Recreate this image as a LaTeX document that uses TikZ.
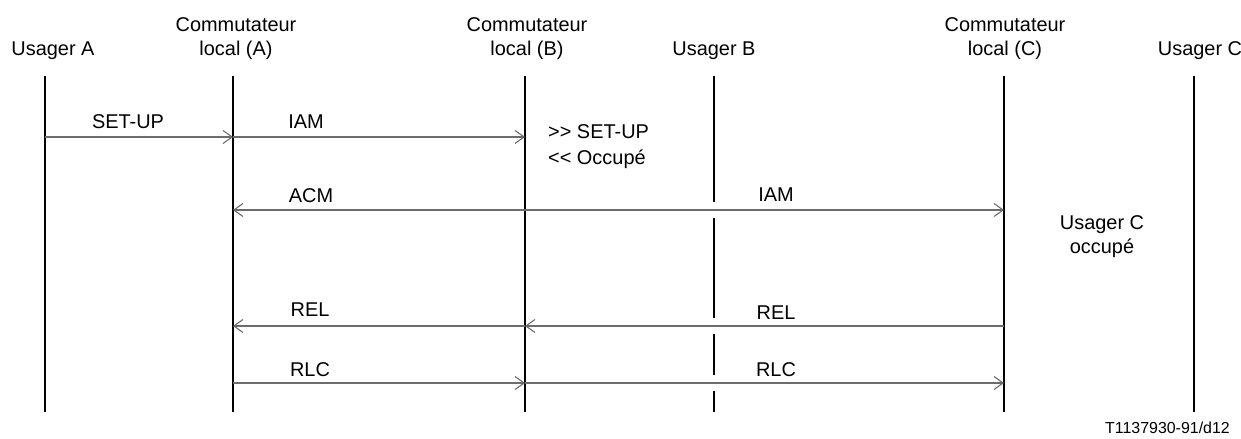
\documentclass[tikz,border=0pt]{standalone}
\usepackage{fontspec}
\setmainfont{Liberation Sans}
\usetikzlibrary{arrows.meta}
\tikzset{
  vie/.style={line width=1.6bp},
  barb/.tip={Straight Barb[length=9bp,width=13bp,line width=1.1bp]},
  msg/.style={draw=gray!85!black, line width=1.2bp, -barb},
  lbl/.style={inner sep=0pt, anchor=base, font=\fontsize{20}{24}\selectfont},
}
\begin{document}
\begin{tikzpicture}[x=1bp,y=-1bp]
\useasboundingbox (0,0) rectangle (1241,439);
% en-tetes
\node[lbl] (hA) at (53,56) {Usager A};
\node[lbl] (hcA1) at (236,32) {Commutateur};
\node[lbl] (hcA2) at (236,56) {local (A)};
\node[lbl] (hcB1) at (527,32) {Commutateur};
\node[lbl] (hcB2) at (527,56) {local (B)};
\node[lbl] (hB) at (714,56) {Usager B};
\node[lbl] (hcC1) at (1005,32) {Commutateur};
\node[lbl] (hcC2) at (1005,56) {local (C)};
\node[lbl] (hC) at (1200,56) {Usager C};
% lignes de vie
\foreach \n/\x in {uA/45,cA/233,cB/525,cC/1004,uC/1194}{
  \coordinate (\n) at (\x,76);
  \coordinate (\n-b) at (\x,412);
  \draw[vie] (\n) -- (\n-b);
}
\coordinate (uB) at (714,76);
\coordinate (uB-b) at (714,412);
\draw[vie] (uB) -- (714,202) (714,218) -- (714,318) (714,334) -- (714,375) (714,391) -- (uB-b);
% rangees des messages
\coordinate (r1) at (0,137);
\coordinate (r2) at (0,210);
\coordinate (r3) at (0,326);
\coordinate (r4) at (0,383);
\draw[msg] (uA |- r1) -- (cA |- r1);
\draw[msg] (cA |- r1) -- (cB |- r1);
\draw[msg, barb-barb] (cA |- r2) -- (cC |- r2);
\draw[msg] (cC |- r3) -- (cB |- r3);
\draw[msg] (cB |- r3) -- (cA |- r3);
\draw[msg] (cA |- r4) -- (cB |- r4);
\draw[msg] (cB |- r4) -- (cC |- r4);
% etiquettes
\node[lbl] (setup) at (128,129) {SET-UP};
\node[lbl] (iam1) at (306,129) {IAM};
\node[lbl, anchor=base west] (sB1) at (548,139) {>{}> SET-UP};
\node[lbl, anchor=base west] (sB2) at (548,165) {<{}< Occupé};
\node[lbl] (acm) at (311,203) {ACM};
\node[lbl] (iam2) at (776,202) {IAM};
\node[lbl] (sC1) at (1102,230) {Usager C};
\node[lbl] (sC2) at (1102,254) {occupé};
\node[lbl] (rel1) at (310,317) {REL};
\node[lbl] (rel2) at (776,320) {REL};
\node[lbl] (rlc1) at (310,377) {RLC};
\node[lbl] (rlc2) at (776,377) {RLC};
\node[lbl, anchor=base east, font=\fontsize{16}{18}\selectfont] (ref) at (1230,434) {T1137930-91/d12};
\end{tikzpicture}
\end{document}
